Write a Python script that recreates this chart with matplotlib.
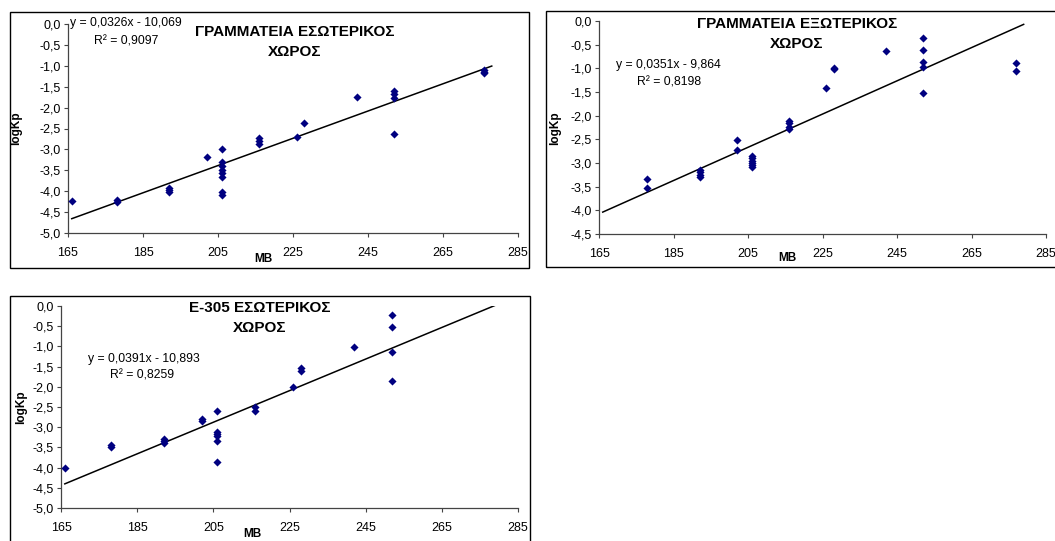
import matplotlib
matplotlib.use('Agg')
from matplotlib import pyplot as plt
from matplotlib.patches import Rectangle
from matplotlib.ticker import FuncFormatter

plt.rcParams['font.family'] = ['Liberation Sans', 'DejaVu Sans']

W, H = 1055, 541

# Kp measurements against MB, one set per location #
mb_gram_in = [166, 178, 178, 192, 192, 192, 202,
              206, 206, 206, 206, 206, 206, 206, 206,
              216, 216, 216, 226, 228, 242,
              252, 252, 252, 252, 276, 276, 276]
logkp_gram_in = [-4.23, -4.22, -4.25, -3.93, -3.98, -4.03, -3.18,
                 -2.98, -3.31, -3.39, -3.49, -3.57, -3.65, -4.03, -4.09,
                 -2.73, -2.80, -2.88, -2.71, -2.38, -1.75,
                 -1.60, -1.68, -1.78, -2.62, -1.10, -1.15, -1.18]

mb_gram_out = [178, 178, 192, 192, 192, 192, 202, 202,
               206, 206, 206, 206, 206, 206,
               216, 216, 216, 216, 226, 228, 228, 242,
               252, 252, 252, 252, 252, 277, 277]
logkp_gram_out = [-3.34, -3.52, -3.15, -3.20, -3.25, -3.30, -2.52, -2.73,
                  -2.85, -2.90, -2.95, -3.00, -3.05, -3.08,
                  -2.11, -2.16, -2.23, -2.28, -1.42, -1.00, -1.02, -0.63,
                  -0.35, -0.61, -0.86, -0.97, -1.53, -0.89, -1.05]

mb_e305_in = [166, 178, 178, 192, 192, 192, 202, 202,
              206, 206, 206, 206, 206, 206,
              216, 216, 226, 228, 228, 242,
              252, 252, 252, 252]
logkp_e305_in = [-4.00, -3.45, -3.50, -3.30, -3.35, -3.40, -2.80, -2.84,
                 -2.59, -3.11, -3.18, -3.23, -3.33, -3.87,
                 -2.49, -2.59, -2.00, -1.53, -1.60, -1.01,
                 -0.22, -0.51, -1.13, -1.85]

# Linear trendlines (slope, intercept, R^2, MB range) #
fit_gram_in = (0.0326, -10.069, 0.9097, [166, 278])
fit_gram_out = (0.0351, -9.864, 0.8198, [166, 279])
fit_e305_in = (0.0391, -10.893, 0.8259, [166, 279])

titles = ['ΓΡΑΜΜΑΤΕΙΑ ΕΣΩΤΕΡΙΚΟΣ\nΧΩΡΟΣ',
          'ΓΡΑΜΜΑΤΕΙΑ ΕΞΩΤΕΡΙΚΟΣ\nΧΩΡΟΣ',
          'E-305 ΕΣΩΤΕΡΙΚΟΣ\nΧΩΡΟΣ']
x_ticks = [165, 185, 205, 225, 245, 265, 285]
y_ticks = [[0.0, -0.5, -1.0, -1.5, -2.0, -2.5, -3.0, -3.5, -4.0, -4.5, -5.0],
           [0.0, -0.5, -1.0, -1.5, -2.0, -2.5, -3.0, -3.5, -4.0, -4.5],
           [0.0, -0.5, -1.0, -1.5, -2.0, -2.5, -3.0, -3.5, -4.0, -4.5, -5.0]]


def fx(px):
    return px / W


def fy(py):
    return 1 - py / H


def comma(v, pos=None):
    return ('%.1f' % v).replace('.', ',')


def num(v, digits):
    return ('%.*f' % (digits, v)).replace('.', ',')


fig = plt.figure(figsize=(W / 100, H / 100), dpi=100)

# frame boxes, axes boxes, title centre, equation position, axis label positions (pixels) #
layout = [
    dict(frame=(10, 12, 529, 268), ax=(68, 24, 518, 233), title=(295, 42),
         eq=(70, 23), r2=(94, 42), xlab=(263, 259), ylab=(16, 128)),
    dict(frame=(546, 11, 1062, 267), ax=(599, 21, 1046, 234), title=(797, 34),
         eq=(616, 65), r2=(637, 83), xlab=(787, 258), ylab=(555, 128)),
    dict(frame=(10, 296, 530, 548), ax=(61, 306, 518, 508), title=(260, 318),
         eq=(88, 359), r2=(110, 375), xlab=(252, 534), ylab=(21, 407)),
]
datasets = [(mb_gram_in, logkp_gram_in, fit_gram_in),
            (mb_gram_out, logkp_gram_out, fit_gram_out),
            (mb_e305_in, logkp_e305_in, fit_e305_in)]

for i in range(3):
    lay = layout[i]
    mb, logkp, fit = datasets[i]

    # outer chart border #
    x0, y0, x1, y1 = lay['frame']
    fig.patches.append(Rectangle((fx(x0), fy(y1)), fx(x1 - x0), (y1 - y0) / H,
                                 transform=fig.transFigure, fill=False,
                                 edgecolor='black', linewidth=1.0))

    l, t, r, b = lay['ax']
    ax = fig.add_axes([fx(l), fy(b), fx(r - l), (b - t) / H])
    ax.set_facecolor('none')
    ax.scatter(mb, logkp, marker='D', s=17, color='#000080', linewidths=0, zorder=3)
    slope, icpt, r2, xr = fit
    ax.plot(xr, [slope * xr[0] + icpt, slope * xr[1] + icpt], color='black', linewidth=1.1)

    ax.set_xlim(165, 285)
    ax.set_ylim(y_ticks[i][-1], 0)
    ax.set_xticks(x_ticks)
    ax.set_yticks(y_ticks[i])
    ax.yaxis.set_major_formatter(FuncFormatter(comma))
    for s in ['top', 'right']:
        ax.spines[s].set_visible(False)
    for s in ['left', 'bottom']:
        ax.spines[s].set_color('#444444')
        ax.spines[s].set_linewidth(0.9)
    ax.tick_params(direction='out', length=3, width=0.8, color='#444444',
                   labelsize=9, pad=2)
    ax.tick_params(axis='x', pad=7)

    fig.text(fx(lay['ylab'][0]), fy(lay['ylab'][1]), 'logKp', fontsize=8.5,
             fontweight='bold', rotation=90, ha='center', va='center')
    fig.text(fx(lay['xlab'][0]), fy(lay['xlab'][1]), 'MB', fontsize=8.5,
             fontweight='bold', ha='center', va='center')
    fig.text(fx(lay['title'][0]), fy(lay['title'][1]), titles[i], fontsize=11,
             fontweight='bold', ha='center', va='center', linespacing=1.55)
    sign = '-' if icpt < 0 else '+'
    fig.text(fx(lay['eq'][0]), fy(lay['eq'][1]),
             'y = %sx %s %s' % (num(slope, 4), sign, num(abs(icpt), 3)),
             fontsize=8.8, ha='left', va='center')
    fig.text(fx(lay['r2'][0]), fy(lay['r2'][1]), 'R² = %s' % num(r2, 4),
             fontsize=8.8, ha='left', va='center')

fig.savefig('out.png', dpi=100)
